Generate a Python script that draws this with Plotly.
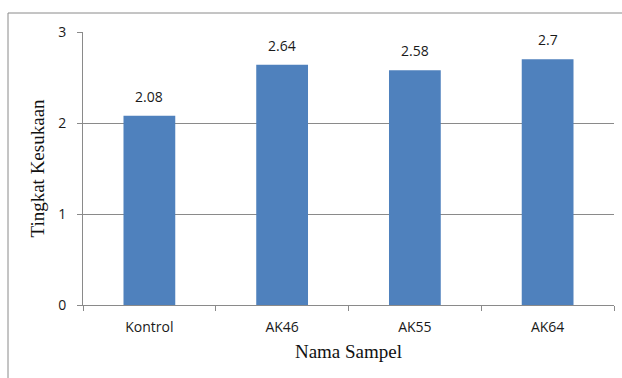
import plotly.graph_objects as go

categories = ["Kontrol", "AK46", "AK55", "AK64"]
values = [2.08, 2.64, 2.58, 2.7]
value_labels = ["2.08", "2.64", "2.58", "2.7"]

SANS = "Open Sans, Liberation Sans, sans-serif"
SERIF = "Liberation Serif, Times New Roman, serif"

fig = go.Figure(go.Bar(
    x=categories, y=values,
    marker=dict(color="#4F81BD", line=dict(width=0)),
))

for c, v, t in zip(categories, values, value_labels):
    fig.add_annotation(x=c, y=v, text=t, showarrow=False, yanchor="bottom",
                       yshift=8, font=dict(family=SANS, size=14, color="#1a1a1a"))

fig.update_layout(
    width=622, height=378,
    margin=dict(l=83, r=8, t=32, b=73),
    paper_bgcolor="white", plot_bgcolor="white",
    bargap=0.61, showlegend=False,
    shapes=[dict(type="rect", xref="paper", yref="paper",
                 x0=-75/531, x1=1.2, y0=-0.5, y1=(305-13)/273,
                 line=dict(color="#8a8a8a", width=1), fillcolor="rgba(0,0,0,0)", layer="below")],
)
fig.update_xaxes(
    automargin=False,
    showline=True, linecolor="#8a8a8a", linewidth=1,
    ticks="outside", tickson="boundaries", ticklen=5, tickcolor="#8a8a8a",
    ticklabelstandoff=9,
    tickfont=dict(family=SANS, size=14, color="#1a1a1a"),
    title=dict(text="Nama Sampel", font=dict(family=SERIF, size=19, color="#111"), standoff=9),
)
fig.update_yaxes(
    automargin=False,
    range=[0, 3], dtick=1, showgrid=True, gridcolor="#8a8a8a", gridwidth=1,
    showline=True, linecolor="#8a8a8a", linewidth=1,
    ticks="outside", ticklen=5, tickcolor="#8a8a8a", zeroline=False,
    ticklabelstandoff=8,
    tickfont=dict(family=SANS, size=14, color="#1a1a1a"),
    title=dict(text="Tingkat Kesukaan", font=dict(family=SERIF, size=19, color="#111"), standoff=8),
)

fig.write_html("out.html", config={"displayModeBar": False},
               post_script="document.body.style.margin='0';document.body.style.overflow='hidden';")
